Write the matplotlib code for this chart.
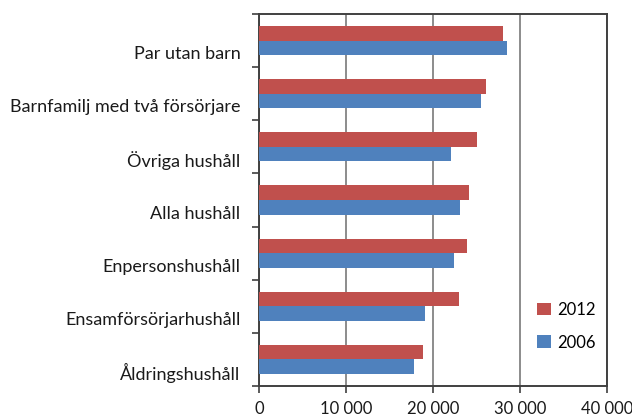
import numpy as np
import matplotlib.pyplot as plt
from matplotlib.transforms import ScaledTranslation

categories = ['Par utan barn', 'Barnfamilj med två försörjare', 'Övriga hushåll',
              'Alla hushåll', 'Enpersonshushåll', 'Ensamförsörjarhushåll',
              'Åldringshushåll']
values_2012 = [28050, 26050, 24950, 24050, 23850, 22900, 18850]
values_2006 = [28500, 25500, 22000, 23100, 22400, 19050, 17800]
xticks = [0, 10000, 20000, 30000, 40000]
xtick_labels = ['0', '10 000', '20 000', '30 000', '40 000']

plt.rcParams['font.family'] = ['Lato', 'DejaVu Sans']

fig = plt.figure(figsize=(6.32, 4.17), dpi=100)
ax = fig.add_axes([0.4106, 0.0743, 0.5505, 0.8921])

n = len(categories)
y = np.arange(n)[::-1].astype(float)
h = 0.275
ax.barh(y + h / 2, values_2012, height=h, color='#C0504D', label='2012', zorder=3)
ax.barh(y - h / 2, values_2006, height=h, color='#4F81BD', label='2006', zorder=3)

ax.set_xlim(0, 40000)
ax.set_ylim(-0.5, n - 0.5)
ax.set_xticks(xticks)
ax.set_xticklabels(xtick_labels, fontsize=12, color='#1a1a1a')
ax.xaxis.grid(True, color='#8c8c8c', linewidth=1.4, zorder=0)

# category boundary ticks, labels sit at centres (shifted a bit down like the original)
ax.set_yticks(np.arange(n + 1) - 0.5, minor=True)
ax.set_yticks(y)
ax.set_yticklabels(categories, fontsize=13, color='#1a1a1a')
ax.tick_params(axis='y', which='major', length=0, pad=18)
ax.tick_params(axis='y', which='minor', length=5, width=1.2, color='#404040')
ax.tick_params(axis='x', length=5, width=1.2, color='#404040', pad=6)
offset = ScaledTranslation(0.06, -0.12, fig.dpi_scale_trans)
for lbl in ax.get_yticklabels():
    lbl.set_transform(lbl.get_transform() + offset)

for s in ax.spines.values():
    s.set_color('#404040')
    s.set_linewidth(1.4)

ax.legend(loc='lower right', bbox_to_anchor=(1.01, 0.055), frameon=False,
          fontsize=12, handlelength=0.8, handleheight=0.8,
          labelspacing=1.0, handletextpad=0.4)

fig.savefig('out.png', dpi=100)
